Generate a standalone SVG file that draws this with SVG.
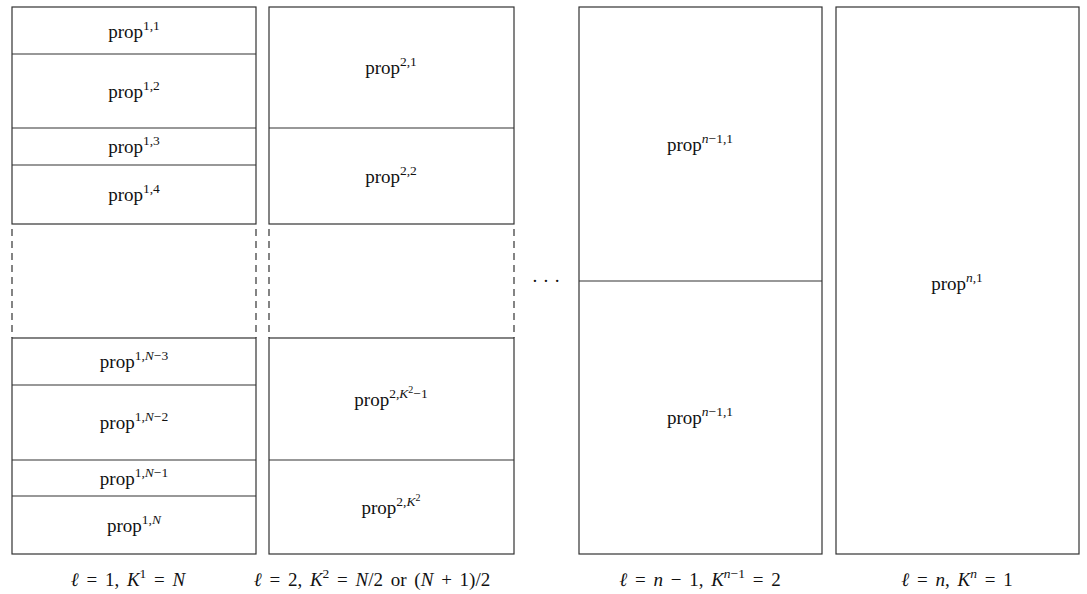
<svg xmlns="http://www.w3.org/2000/svg" width="1087" height="594" viewBox="0 0 1087 594">
<style>
.box{fill:#fff;stroke:#333;stroke-width:1.2}
.ln{stroke:#333;stroke-width:1.2;fill:none}
.dash{stroke:#333;stroke-width:1.2;fill:none;stroke-dasharray:7 5}
text{font-family:"Liberation Serif","DejaVu Serif",serif;font-size:19px;fill:#111;text-anchor:middle}
.s{font-size:13.5px}
.ss{font-size:10px}
.i{font-style:italic}
.lab{word-spacing:3px}
</style>
<rect width="1087" height="594" fill="#fff"/>
<g id="col1">
<rect class="box" x="12" y="7" width="244" height="217"/>
<rect class="box" x="12" y="338" width="244" height="216"/>
<line class="ln" x1="12" y1="54" x2="256" y2="54"/>
<line class="ln" x1="12" y1="128" x2="256" y2="128"/>
<line class="ln" x1="12" y1="165" x2="256" y2="165"/>
<line class="ln" x1="12" y1="385" x2="256" y2="385"/>
<line class="ln" x1="12" y1="460" x2="256" y2="460"/>
<line class="ln" x1="12" y1="496" x2="256" y2="496"/>
<line class="dash" x1="12" y1="229" x2="12" y2="338"/>
<line class="dash" x1="256" y1="229" x2="256" y2="338"/>
<text x="134" y="38">prop<tspan class="s" dy="-8">1,1</tspan></text>
<text x="134" y="98">prop<tspan class="s" dy="-8">1,2</tspan></text>
<text x="134" y="153">prop<tspan class="s" dy="-8">1,3</tspan></text>
<text x="134" y="201">prop<tspan class="s" dy="-8">1,4</tspan></text>
<text x="134" y="368">prop<tspan class="s" dy="-8">1,<tspan class="i">N</tspan>−3</tspan></text>
<text x="134" y="429">prop<tspan class="s" dy="-8">1,<tspan class="i">N</tspan>−2</tspan></text>
<text x="134" y="485">prop<tspan class="s" dy="-8">1,<tspan class="i">N</tspan>−1</tspan></text>
<text x="134" y="532">prop<tspan class="s" dy="-8">1,<tspan class="i">N</tspan></tspan></text>
</g>
<g id="col2">
<rect class="box" x="269" y="7" width="245" height="217"/>
<rect class="box" x="269" y="338" width="245" height="216"/>
<line class="ln" x1="269" y1="128" x2="514" y2="128"/>
<line class="ln" x1="269" y1="460" x2="514" y2="460"/>
<line class="dash" x1="269" y1="229" x2="269" y2="338"/>
<line class="dash" x1="514" y1="229" x2="514" y2="338"/>
<text x="391" y="74">prop<tspan class="s" dy="-8">2,1</tspan></text>
<text x="391" y="183">prop<tspan class="s" dy="-8">2,2</tspan></text>
<text x="391" y="406">prop<tspan class="s" dy="-8">2,<tspan class="i">K</tspan><tspan class="ss" dy="-5">2</tspan><tspan dy="5">−1</tspan></tspan></text>
<text x="391" y="514">prop<tspan class="s" dy="-8">2,<tspan class="i">K</tspan><tspan class="ss" dy="-5">2</tspan></tspan></text>
</g>
<g id="dots">
<text x="546" y="287">· · ·</text>
</g>
<g id="col3">
<rect class="box" x="579" y="7" width="243" height="547"/>
<line class="ln" x1="579" y1="281" x2="822" y2="281"/>
<text x="700" y="151">prop<tspan class="s" dy="-8"><tspan class="i">n</tspan>−1,1</tspan></text>
<text x="700" y="424">prop<tspan class="s" dy="-8"><tspan class="i">n</tspan>−1,1</tspan></text>
</g>
<g id="col4">
<rect class="box" x="836" y="7" width="243" height="547"/>
<text x="957" y="290">prop<tspan class="s" dy="-8"><tspan class="i">n</tspan>,1</tspan></text>
</g>
<g id="labels">
<text class="lab" x="128" y="586"><tspan class="i">ℓ</tspan> = 1, <tspan class="i">K</tspan><tspan class="s" dy="-8">1</tspan><tspan dy="8"> = </tspan><tspan class="i">N</tspan></text>
<text class="lab" x="372" y="586"><tspan class="i">ℓ</tspan> = 2, <tspan class="i">K</tspan><tspan class="s" dy="-8">2</tspan><tspan dy="8"> = </tspan><tspan class="i">N</tspan>/2 or (<tspan class="i">N</tspan> + 1)/2</text>
<text class="lab" x="700" y="586"><tspan class="i">ℓ</tspan> = <tspan class="i">n</tspan> − 1, <tspan class="i">K</tspan><tspan class="s" dy="-8"><tspan class="i">n</tspan>−1</tspan><tspan dy="8"> = 2</tspan></text>
<text class="lab" x="957" y="586"><tspan class="i">ℓ</tspan> = <tspan class="i">n</tspan>, <tspan class="i">K</tspan><tspan class="s" dy="-8"><tspan class="i">n</tspan></tspan><tspan dy="8"> = 1</tspan></text>
</g>
</svg>
